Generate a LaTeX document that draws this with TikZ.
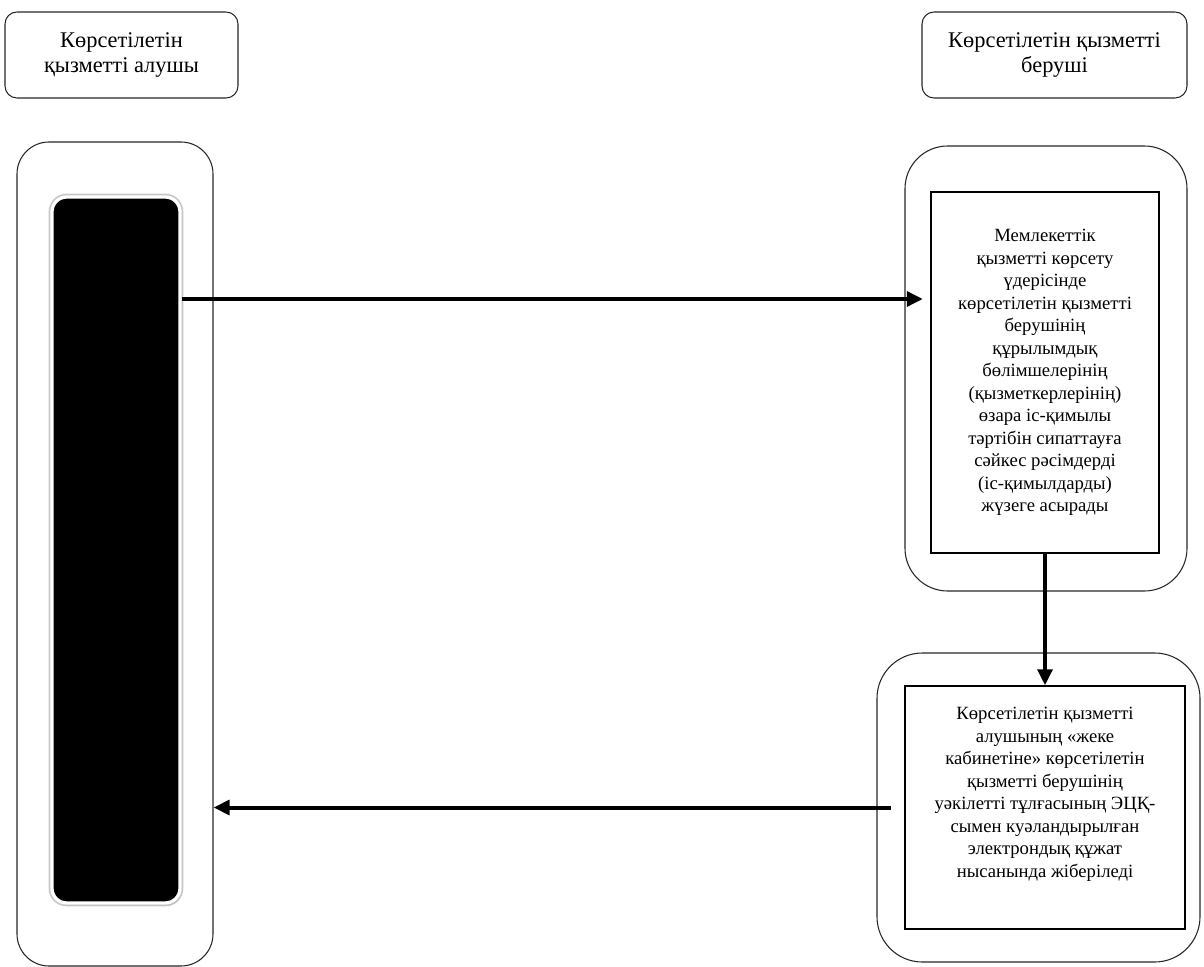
\documentclass[tikz,border=0pt]{standalone}
\usepackage{fontspec}
\setmainfont{Liberation Serif}
\usetikzlibrary{arrows.meta,shadows}

\tikzset{
  head/.style={draw=black!85, thick, rounded corners=9pt, align=center,
    font=\fontsize{16.8}{19}\selectfont},
  lane/.style={draw=black!85, thick},
  proc/.style={draw, fill=white, align=center,
    font=\fontsize{14}{16.9}\selectfont},
  blkbar/.style={fill=black, draw=white, line width=2.5pt, rounded corners=11pt,
    preaction={draw=black!22, line width=5pt},
    drop shadow={shadow xshift=1pt, shadow yshift=-1.5pt, opacity=0.3}},
  flow/.style={-{Triangle[length=12pt,width=11pt]}, line width=3pt},
}

\begin{document}
\begin{tikzpicture}[x=0.75pt,y=-0.75pt]
\useasboundingbox (0,0) rectangle (1204,967);

% Headers
\node[head, minimum width=174.75pt, minimum height=64.5pt] (recvhead) at (121.5,55)
  {Көрсетілетін\\ қызметті алушы};
\node[head, minimum width=198.75pt, minimum height=64.5pt] (provhead) at (1054.5,55)
  {Көрсетілетін қызметті\\ беруші};

% Lanes
\node[lane, rounded corners=24pt, minimum width=147pt, minimum height=618pt] (recvlane) at (115,554) {};
\node[lane, rounded corners=32pt, minimum width=211.5pt, minimum height=333.75pt] (lane1) at (1046,368.5) {};
\node[lane, rounded corners=34pt, minimum width=242.25pt, minimum height=231.75pt] (lane2) at (1038.5,807.5) {};

% Receiver bar
\node[blkbar, minimum width=96pt, minimum height=529.5pt] (blk) at (116,550) {};

% Steps
\node[proc, line width=2.2pt, minimum width=171pt, minimum height=270.75pt] (proc1) at (1045,372.5)
  {Мемлекеттік\\ қызметті көрсету\\ үдерісінде\\ көрсетілетін қызметті\\ берушінің\\
   құрылымдық\\ бөлімшелерінің\\ (қызметкерлерінің)\\ өзара іс-қимылы\\
   тәртібін сипаттауға\\ сәйкес рәсімдерді\\ (іс-қимылдарды)\\ жүзеге асырады};
\node[proc, line width=1pt, minimum width=210pt, minimum height=182.25pt] (proc2) at (1045,807.5)
  {Көрсетілетін қызметті\\ алушының «жеке\\ кабинетіне» көрсетілетін\\ қызметті берушінің\\
   уәкілетті тұлғасының ЭЦҚ-\\ сымен куәландырылған\\ электрондық құжат\\
   нысанында жіберіледі\\[6pt]\mbox{}};

% Arrows
\draw[flow, shorten >=5pt] (blk.east |- 0,299) -- (proc1.west |- 0,299);
\draw[flow] (proc1.south) -- (proc1.south |- proc2.north);
\draw[flow, shorten <=10pt] (proc2.west) -- (proc2.west -| recvlane.east);

\end{tikzpicture}
\end{document}
